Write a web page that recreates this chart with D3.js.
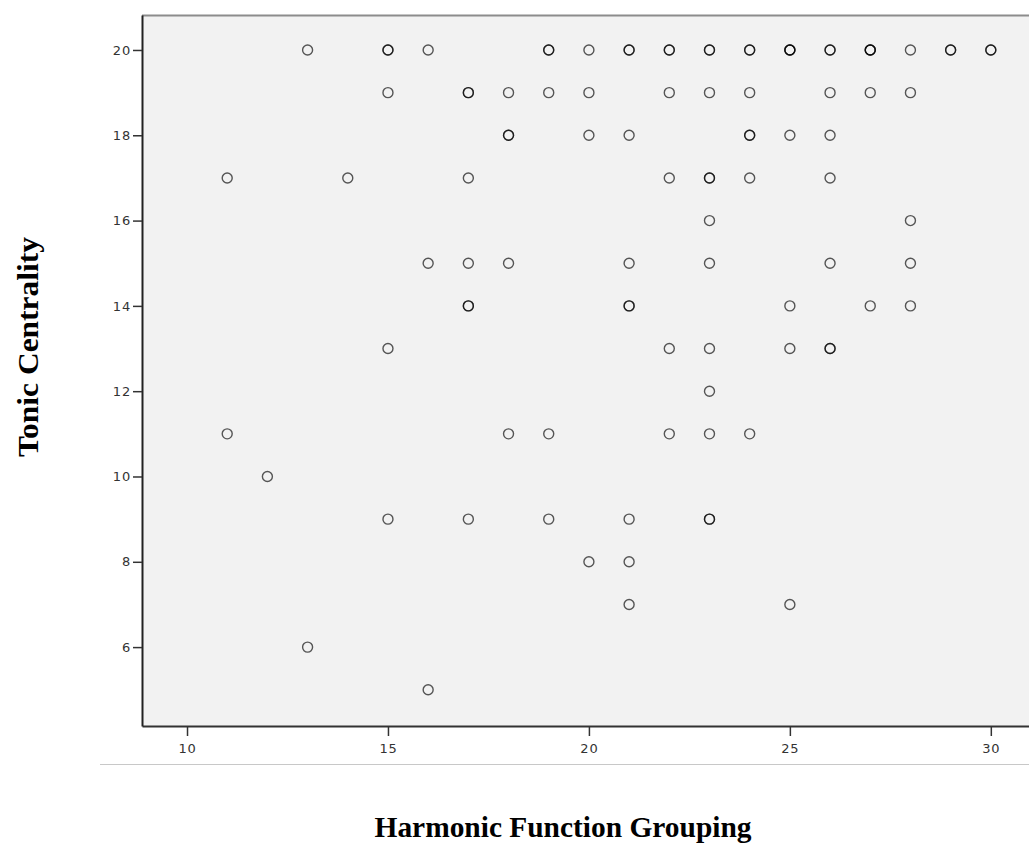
<!DOCTYPE html>
<html>
<head>
<meta charset="utf-8">
<script src="https://cdn.jsdelivr.net/npm/d3@7"></script>
<style>
  html, body { margin: 0; padding: 0; background: #ffffff; }
  svg { display: block; }
</style>
</head>
<body>
<svg id="chart" width="1029" height="846"></svg>
<script>
// ---- Data (repeated pairs are overlapping cases) ----
const harmonicFunctionGrouping = [
  // Tonic = 20
  13, 15, 15, 16, 19, 19, 20, 21, 21, 22, 22, 23, 23, 24, 24, 25, 25, 25, 26, 26, 27, 27, 27, 28, 29, 29, 30, 30,
  // Tonic = 19
  15, 17, 17, 18, 19, 20, 22, 23, 24, 26, 27, 28,
  // Tonic = 18
  18, 18, 20, 21, 24, 24, 25, 26,
  // Tonic = 17
  11, 14, 17, 22, 23, 23, 24, 26,
  // Tonic = 16
  23, 28,
  // Tonic = 15
  16, 17, 18, 21, 23, 26, 28,
  // Tonic = 14
  17, 17, 21, 21, 25, 27, 28,
  // Tonic = 13
  15, 22, 23, 25, 26, 26,
  // Tonic = 12
  23,
  // Tonic = 11
  11, 18, 19, 22, 23, 24,
  // Tonic = 10
  12,
  // Tonic = 9
  15, 17, 19, 21, 23, 23,
  // Tonic = 8
  20, 21,
  // Tonic = 7
  21, 25,
  // Tonic = 6
  13,
  // Tonic = 5
  16
];
const tonicCentrality = [
  20, 20, 20, 20, 20, 20, 20, 20, 20, 20, 20, 20, 20, 20, 20, 20, 20, 20, 20, 20, 20, 20, 20, 20, 20, 20, 20, 20,
  19, 19, 19, 19, 19, 19, 19, 19, 19, 19, 19, 19,
  18, 18, 18, 18, 18, 18, 18, 18,
  17, 17, 17, 17, 17, 17, 17, 17,
  16, 16,
  15, 15, 15, 15, 15, 15, 15,
  14, 14, 14, 14, 14, 14, 14,
  13, 13, 13, 13, 13, 13,
  12,
  11, 11, 11, 11, 11, 11,
  10,
  9, 9, 9, 9, 9, 9,
  8, 8,
  7, 7,
  6,
  5
];
const xTickValues = [10, 15, 20, 25, 30];
const yTickValues = [6, 8, 10, 12, 14, 16, 18, 20];
const xDomain = [8.88, 30.95];
const yDomain = [4.15, 20.82];
const xTitle = "Harmonic Function Grouping";
const yTitle = "Tonic Centrality";

// ---- Layout ----
const plot = { left: 142, right: 1029, top: 15, bottom: 726 };

const svg = d3.select("#chart");

const x = d3.scaleLinear().domain(xDomain).range([plot.left, plot.right]);
const y = d3.scaleLinear().domain(yDomain).range([plot.bottom, plot.top]);

// plot background
svg.append("rect")
  .attr("x", plot.left).attr("y", plot.top)
  .attr("width", plot.right - plot.left).attr("height", plot.bottom - plot.top)
  .attr("fill", "#f2f2f2");

// top border
svg.append("line")
  .attr("x1", plot.left).attr("x2", plot.right)
  .attr("y1", plot.top + 0.5).attr("y2", plot.top + 0.5)
  .attr("stroke", "#8c8c8c").attr("stroke-width", 2);

// faint separator line under the x axis
svg.append("line")
  .attr("x1", 100).attr("x2", 1029)
  .attr("y1", 764.5).attr("y2", 764.5)
  .attr("stroke", "#c8c8c8").attr("stroke-width", 1);

// points
const points = harmonicFunctionGrouping.map((h, i) => ({ h: h, t: tonicCentrality[i] }));
svg.append("g")
  .selectAll("circle")
  .data(points)
  .join("circle")
  .attr("cx", d => x(d.h))
  .attr("cy", d => y(d.t))
  .attr("r", 5)
  .attr("fill", "none")
  .attr("stroke", "#000")
  .attr("stroke-opacity", 0.65)
  .attr("stroke-width", 1.4);

// x axis
const xAxis = svg.append("g")
  .attr("transform", `translate(0,${plot.bottom})`)
  .call(d3.axisBottom(x).tickValues(xTickValues).tickSize(10).tickSizeOuter(0).tickPadding(8).tickFormat(d3.format("d")));
xAxis.select(".domain").attr("stroke", "#333").attr("stroke-width", 2);
xAxis.selectAll(".tick line").attr("stroke", "#333").attr("stroke-width", 1.5);
xAxis.selectAll(".tick text")
  .attr("fill", "#333")
  .style("font-family", "'DejaVu Sans', sans-serif")
  .style("font-size", "13px")
  .style("letter-spacing", "0.8px");

// y axis
const yAxis = svg.append("g")
  .attr("transform", `translate(${plot.left},0)`)
  .call(d3.axisLeft(y).tickValues(yTickValues).tickSize(9).tickSizeOuter(0).tickPadding(2).tickFormat(d3.format("d")));
yAxis.select(".domain").attr("stroke", "#222").attr("stroke-width", 2);
yAxis.selectAll(".tick line").attr("stroke", "#333").attr("stroke-width", 1.5);
yAxis.selectAll(".tick text")
  .attr("fill", "#333")
  .style("font-family", "'DejaVu Sans', sans-serif")
  .style("font-size", "13px")
  .style("letter-spacing", "0.8px");

// axis titles
svg.append("text")
  .attr("x", 563).attr("y", 837)
  .attr("text-anchor", "middle")
  .attr("textLength", 377)
  .attr("lengthAdjust", "spacingAndGlyphs")
  .style("font-family", "'Liberation Serif', 'DejaVu Serif', serif")
  .style("font-weight", "bold")
  .style("font-size", "29px")
  .attr("fill", "#000")
  .text(xTitle);

svg.append("text")
  .attr("transform", "translate(38,347) rotate(-90)")
  .attr("text-anchor", "middle")
  .attr("textLength", 220)
  .attr("lengthAdjust", "spacingAndGlyphs")
  .style("font-family", "'Liberation Serif', 'DejaVu Serif', serif")
  .style("font-weight", "bold")
  .style("font-size", "29px")
  .attr("fill", "#000")
  .text(yTitle);
</script>
</body>
</html>
